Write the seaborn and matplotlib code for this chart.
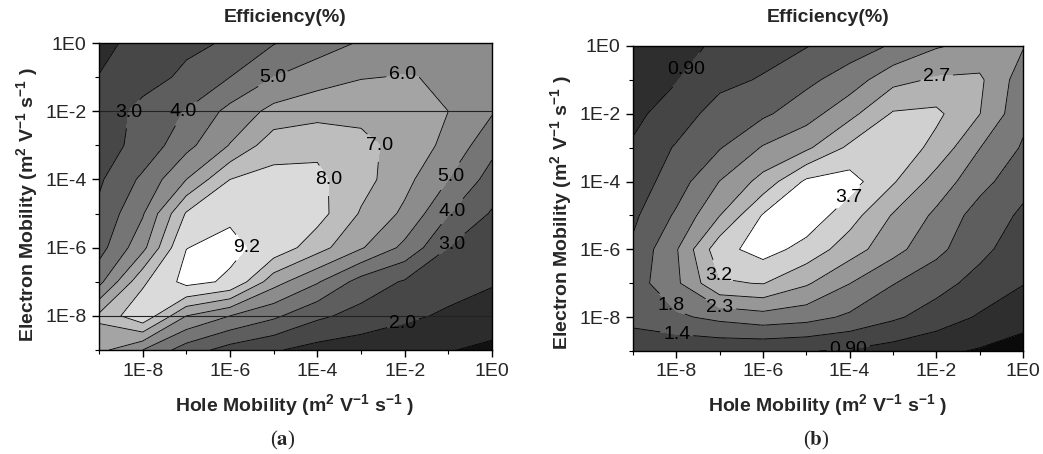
import numpy as np
import matplotlib
matplotlib.use("Agg")
import matplotlib.pyplot as plt
import seaborn as sns

sns.set_style("ticks")
plt.rcParams['font.family'] = ['Liberation Sans', 'DejaVu Sans']
plt.rcParams['mathtext.fontset'] = 'custom'
plt.rcParams['mathtext.rm'] = 'Liberation Sans'
plt.rcParams['mathtext.bf'] = 'Liberation Sans:bold'

# log10 of the mobilities (m2 V-1 s-1) on the simulation grid
hole_exp = [-9, -8, -7, -6, -5, -4, -3, -2, -1, 0]
elec_exp = [0, -1, -2, -3, -4, -5, -6, -7, -8, -9]

# efficiency (%), rows = electron mobility (1E0 at top), cols = hole mobility
eff_a = [
    [1.5, 2.6, 2.8, 3.1, 3.95, 4.5, 5.1, 5.4, 5.6, 5.5],
    [2.05, 2.6, 3.2, 4.0, 5.0, 5.6, 5.95, 6.05, 5.9, 5.45],
    [2.35, 3.3, 4.05, 5.3, 6.3, 6.6, 6.7, 6.5, 6.0, 5.1],
    [2.6, 3.3, 4.7, 6.05, 7.6, 7.8, 7.3, 6.6, 5.75, 4.3],
    [2.85, 4.2, 6.0, 8.0, 8.3, 8.2, 7.4, 6.3, 5.0, 3.6],
    [3.2, 4.9, 8.1, 9.0, 8.9, 8.4, 6.9, 5.8, 4.05, 2.9],
    [3.6, 5.7, 9.18, 9.5, 8.7, 7.4, 6.1, 4.75, 3.0, 2.5],
    [4.7, 7.8, 9.6, 9.0, 6.4, 5.1, 3.6, 2.9, 2.4, 2.1],
    [7.2, 8.8, 6.0, 5.0, 4.2, 3.2, 2.65, 2.2, 1.85, 1.5],
    [6.3, 5.0, 3.5, 2.6, 2.1, 1.65, 1.45, 1.25, 1.05, 0.8],
]
eff_b = [
    [0.55, 0.75, 0.98, 1.15, 1.35, 1.6, 1.88, 2.25, 2.42, 2.32],
    [0.68, 0.88, 1.22, 1.42, 1.72, 2.05, 2.6, 2.8, 2.82, 2.05],
    [0.8, 1.1, 1.6, 1.75, 2.1, 2.6, 3.25, 3.3, 2.75, 1.95],
    [0.95, 1.42, 1.8, 2.33, 2.65, 3.3, 3.55, 3.05, 2.3, 1.78],
    [1.12, 1.6, 2.3, 2.9, 3.75, 3.85, 3.25, 2.55, 2.0, 1.5],
    [1.28, 1.9, 2.73, 3.7, 3.95, 3.4, 2.7, 2.2, 1.62, 1.3],
    [1.45, 2.25, 3.5, 3.85, 3.5, 2.95, 2.45, 1.95, 1.5, 1.1],
    [1.6, 2.2, 3.15, 3.22, 2.8, 2.3, 1.85, 1.55, 1.2, 0.92],
    [1.45, 1.75, 1.95, 2.1, 2.0, 1.75, 1.45, 1.15, 0.85, 0.6],
    [1.2, 1.0, 1.0, 0.97, 0.92, 0.85, 0.7, 0.55, 0.42, 0.3],
]

levels_a = [1.0, 2.0, 3.0, 4.0, 5.0, 6.0, 7.0, 8.0, 9.2]
labels_a = ['1.0', '2.0', '3.0', '4.0', '5.0', '6.0', '7.0', '8.0', '9.2']
levels_b = [0.46, 0.90, 1.37, 1.83, 2.29, 2.74, 3.20, 3.66]
labels_b = ['0.46', '0.90', '1.4', '1.8', '2.3', '2.7', '3.2', '3.7']

tick_exp = [-8, -6, -4, -2, 0]
tick_labels = ['1E-8', '1E-6', '1E-4', '1E-2', '1E0']

grays_a = ['#111111', '#2c2c2c', '#474747', '#5e5e5e', '#757575',
           '#8c8c8c', '#a4a4a4', '#bdbdbd', '#dadada', '#ffffff']
grays_b = ['#0a0a0a', '#2e2e2e', '#454545', '#5e5e5e', '#7a7a7a',
           '#979797', '#b3b3b3', '#d0d0d0', '#ffffff']

# where each level label sits (level, log hole, log electron)
label_pos_a = [(3.0, -8.34, -2.02), (4.0, -7.08, -1.97), (5.0, -5.0, -1.08),
               (6.0, -2.04, -0.94), (7.0, -2.45, -3.0), (8.0, -3.75, -4.0),
               (9.2, -5.6, -6.0), (5.0, -1.0, -3.87), (4.0, -1.0, -4.84),
               (3.0, -0.85, -6.0), (2.0, -2.04, -8.21)]
label_pos_b = [(0.90, -8.0, -0.47), (2.74, -2.0, -0.86), (3.66, -4.04, -4.45),
               (3.20, -7.0, -6.76), (1.83, -7.98, -7.49), (2.29, -7.0, -7.73),
               (1.37, -7.98, -8.32), (0.90, -4.04, -8.73)]

fig = plt.figure(figsize=(10.43, 4.54), dpi=100)
ax_a = fig.add_axes([99 / 1043, 1 - 350 / 454, 393 / 1043, 307 / 454])
ax_b = fig.add_axes([633 / 1043, 1 - 351 / 454, 390 / 1043, 305 / 454])


def draw(ax, z, levels, labels, grays, zmin, zmax, label_pos):
    z = np.array(z)
    ax.contourf(hole_exp, elec_exp, z, levels=[zmin] + levels + [zmax], colors=grays)
    fmt = dict(zip(levels, labels))
    for lev in levels:
        cs = ax.contour(hole_exp, elec_exp, z, levels=[lev], colors='black',
                        linewidths=0.6)
        spots = [(x, y) for l, x, y in label_pos if l == lev]
        if spots:
            texts = cs.clabel(fmt=fmt, manual=spots, inline=True,
                              inline_spacing=3, fontsize=14)
            for t in texts:
                t.set_rotation(0)
    ax.set_xlim(-9, 0)
    ax.set_ylim(-9, 0)
    ax.set_xticks(tick_exp, tick_labels)
    ax.set_yticks(tick_exp, tick_labels)
    ax.set_xticks(hole_exp, minor=True)
    ax.set_yticks(elec_exp, minor=True)
    ax.tick_params(which='major', length=5, width=1, direction='out',
                   labelsize=14, color='black', pad=4)
    ax.tick_params(which='minor', length=3, width=0.8, direction='out', color='black')
    for sp in ax.spines.values():
        sp.set_color('black')
        sp.set_linewidth(1.0)


draw(ax_a, eff_a, levels_a, labels_a, grays_a, 0.0, 10.0, label_pos_a)
draw(ax_b, eff_b, levels_b, labels_b, grays_b, 0.0, 4.5, label_pos_b)

for y in [-2, -8]:
    ax_a.axhline(y, color='#222222', lw=0.8)

xlab = r'Hole Mobility (m$^{\mathbf{2}}$ V$^{\mathbf{-1}}$ s$^{\mathbf{-1}}$ )'
ylab = r'Electron Mobility (m$^{\mathbf{2}}$ V$^{\mathbf{-1}}$ s$^{\mathbf{-1}}$ )'
for cx, cy_title, xl_x, yl_x, yl_y, tag in [(285, 17, 295, 28, 205, 'a'),
                                            (828, 17, 828, 562, 213, 'b')]:
    fig.text(cx / 1043, 1 - cy_title / 454, 'Efficiency(%)', ha='center',
             va='center', fontsize=14, fontweight='bold')
    fig.text(xl_x / 1043, 1 - 406 / 454, xlab, ha='center', va='center',
             fontsize=14, fontweight='bold')
    fig.text(yl_x / 1043, 1 - yl_y / 454, ylab, ha='center', va='center',
             rotation=90, fontsize=14, fontweight='bold')
    fig.text((xl_x - 12) / 1043, 1 - 440 / 454, r'($\mathbf{%s}$)' % tag,
             ha='center', va='center', fontsize=15, family='Liberation Serif',
             math_fontfamily='stix')

fig.savefig('out.png', dpi=100)
